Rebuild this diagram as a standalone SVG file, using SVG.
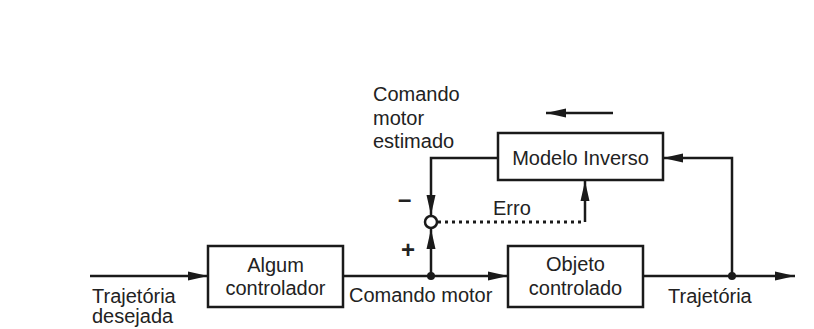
<svg xmlns="http://www.w3.org/2000/svg" width="814" height="329" viewBox="0 0 814 329">
<style>
text{font-family:"Liberation Sans",Arial,sans-serif;font-size:20px;fill:#222}
.ln{stroke:#1a1a1a;stroke-width:2.5;fill:none}
.box{stroke:#1a1a1a;stroke-width:2.5;fill:#fff}
.dot{stroke:#1a1a1a;stroke-width:3;fill:none;stroke-dasharray:3 4}
.sg{font-weight:bold;font-size:24px}
</style>
<defs>
<marker id="ah" viewBox="0 0 20 10" refX="20" refY="5" markerWidth="8" markerHeight="4" markerUnits="strokeWidth" orient="auto">
<path d="M0,0.5 L20,5 L0,9.5 z" fill="#1a1a1a"/>
</marker>
</defs>
<rect width="814" height="329" fill="#fff"/>
<g id="connectors">
<path class="ln" d="M90,276 H208" marker-end="url(#ah)"/>
<path class="ln" d="M343,276 H508" marker-end="url(#ah)"/>
<path class="ln" d="M431,276 V229" marker-end="url(#ah)"/>
<path class="ln" d="M643,276 H795" marker-end="url(#ah)"/>
<path class="ln" d="M732,276 V158 H663" marker-end="url(#ah)"/>
<path class="ln" d="M498,158 H431 V215" marker-end="url(#ah)"/>
<path class="dot" d="M438,222 H585"/>
<path class="ln" d="M585,222 V181" marker-end="url(#ah)"/>
<path class="ln" d="M613,113 H546" marker-end="url(#ah)"/>
<circle cx="431" cy="276" r="4" fill="#1a1a1a"/>
<circle cx="732" cy="276" r="4" fill="#1a1a1a"/>
<circle id="sum" cx="431" cy="222" r="6" fill="#fff" stroke="#1a1a1a" stroke-width="2.5"/>
<text class="sg" x="398" y="207">–</text>
<text class="sg" x="401" y="258">+</text>
<text x="493" y="215">Erro</text>
</g>
<g id="algum">
<rect class="box" x="208" y="246" width="135" height="61"/>
<text x="275.5" y="272" text-anchor="middle">Algum</text>
<text x="275.5" y="295" text-anchor="middle">controlador</text>
</g>
<g id="objeto">
<rect class="box" x="508" y="246" width="135" height="61"/>
<text x="575.5" y="271" text-anchor="middle">Objeto</text>
<text x="575.5" y="295" text-anchor="middle">controlado</text>
</g>
<g id="modelo">
<rect class="box" x="498" y="133" width="165" height="47"/>
<text x="580.5" y="165" text-anchor="middle">Modelo Inverso</text>
</g>
<g id="labels">
<text x="92" y="303">Trajetória</text>
<text x="92" y="323">desejada</text>
<text x="349" y="302">Comando motor</text>
<text x="668" y="303">Trajetória</text>
<text x="373" y="101">Comando</text>
<text x="373" y="125">motor</text>
<text x="373" y="148">estimado</text>
</g>
</svg>
